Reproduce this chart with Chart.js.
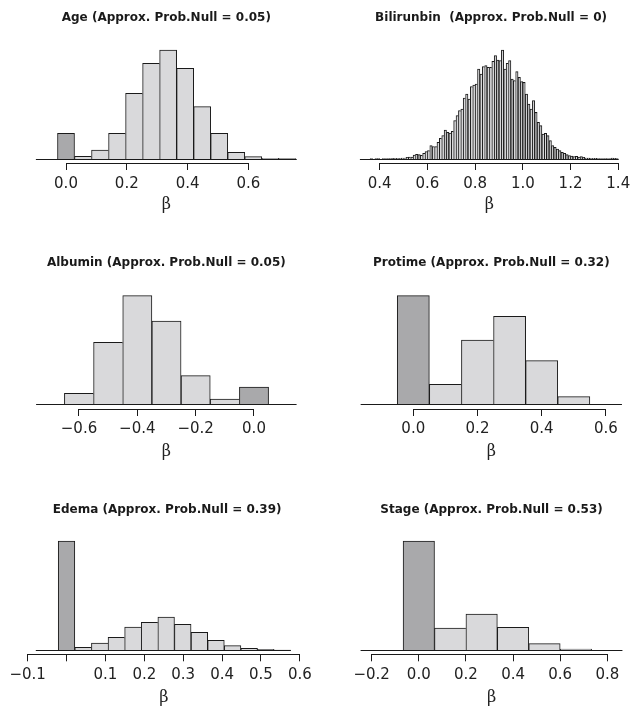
<!DOCTYPE html>
<html>
<head>
<meta charset="utf-8">
<script src="https://cdn.jsdelivr.net/npm/chart.js@4.4.1/dist/chart.umd.min.js"></script>
<style>
  body { margin: 0; background: #fff; }
  .panel { position: absolute; }
</style>
</head>
<body>
<div class="panel" id="p1"><canvas id="c1"></canvas></div>
<div class="panel" id="p2"><canvas id="c2"></canvas></div>
<div class="panel" id="p3"><canvas id="c3"></canvas></div>
<div class="panel" id="p4"><canvas id="c4"></canvas></div>
<div class="panel" id="p5"><canvas id="c5"></canvas></div>
<div class="panel" id="p6"><canvas id="c6"></canvas></div>
<script>
// bin centres (the null mass sits in the bin at 0) and bar heights
const ageBins = [0, 0.056, 0.112, 0.168, 0.224, 0.28, 0.336, 0.392, 0.448, 0.504, 0.56, 0.616, 0.672, 0.728];
const ageCounts = [77, 8, 27, 77, 197, 287, 327, 272, 157, 77, 20, 7, 2, 1];
const ageRange = [-0.099, 0.759];
const ageTicks = [0, 0.2, 0.4, 0.6];
const ageTickLabels = ["0.0", "0.2", "0.4", "0.6"];

// bilirubin: breaks every 0.01 from 0.32 to 1.40
const biliStart = 0.325, biliStep = 0.01;
const biliCounts = [
  0, 0, 0, 0, 1, 0, 1, 1, 0, 1, 1, 1, 1, 2, 1, 2, 2, 3,
  3, 5, 6, 6, 12, 14, 13, 11,
  17, 22, 25, 40, 37, 37, 50, 62, 70, 87, 80, 78, 83, 115, 130, 145, 150, 183, 195, 180, 217, 222, 225, 270, 255, 277, 280, 275,
  275, 293, 310, 297, 295, 327, 270, 287, 295, 240, 235, 262, 245, 232, 230, 195, 165, 150, 175, 140, 110, 100, 75, 77, 70, 55, 40, 35,
  30, 25, 20, 17, 13, 10, 9, 7, 8, 6, 7, 5, 3, 3, 2, 2, 2, 1, 1, 1, 1, 1, 1, 3, 2, 1
];
const biliBins = biliCounts.map((c, i) => +(biliStart + i * biliStep).toFixed(3));
const biliRange = [0.317, 1.402];
const biliTicks = [0.4, 0.6, 0.8, 1.0, 1.2, 1.4];
const biliTickLabels = ["0.4", "0.6", "0.8", "1.0", "1.2", "1.4"];

const albBins = [-0.6, -0.5, -0.4, -0.3, -0.2, -0.1, 0];
const albCounts = [32, 185, 325, 249, 85, 15, 51];
const albRange = [-0.747, 0.146];
const albTicks = [-0.6, -0.4, -0.2, 0];
const albTickLabels = ["\u22120.6", "\u22120.4", "\u22120.2", "0.0"];

const proBins = [0, 0.1, 0.2, 0.3, 0.4, 0.5];
const proCounts = [325, 59, 192, 263, 130, 22];
const proRange = [-0.164, 0.65];
const proTicks = [0, 0.2, 0.4, 0.6];
const proTickLabels = ["0.0", "0.2", "0.4", "0.6"];

const edeBins = [0, 0.0427, 0.0854, 0.1281, 0.1708, 0.2135, 0.2562, 0.2989, 0.3416, 0.3843, 0.427, 0.4697, 0.5124, 0.5551];
const edeCounts = [328, 9, 22, 39, 70, 84, 100, 78, 54, 30, 14, 6, 3, 1];
const edeRange = [-0.079, 0.577];
const edeTicks = [-0.1, 0, 0.1, 0.2, 0.3, 0.4, 0.5, 0.6];
const edeTickLabels = ["\u22120.1", "", "0.1", "0.2", "0.3", "0.4", "0.5", "0.6"];

const staBins = [0, 0.1333, 0.2666, 0.3999, 0.5332, 0.6665];
const staCounts = [328, 67, 109, 69, 20, 4];
const staRange = [-0.247, 0.864];
const staTicks = [-0.2, 0, 0.2, 0.4, 0.6, 0.8];
const staTickLabels = ["\u22120.2", "0.0", "0.2", "0.4", "0.6", "0.8"];

const LIGHT = "#d9d9db";
const DARK = "#a9a9ab";
const INK = "#1a1a1a";
const YMAX = 330;

// R-style axis: line only between first and last tick, plus the histogram baseline
const axisLine = {
  id: "axisLine",
  afterDatasetsDraw(chart, args, opts) {
    const x = chart.scales.x, y = chart.scales.y, ctx = chart.ctx;
    const t = x.ticks;
    ctx.save();
    ctx.strokeStyle = INK;
    ctx.lineWidth = 1;
    ctx.beginPath();
    const ya = Math.round(x.top) + 0.5;
    ctx.moveTo(x.getPixelForValue(t[0].value), ya);
    ctx.lineTo(x.getPixelForValue(t[t.length - 1].value), ya);
    const yb = Math.round(y.getPixelForValue(0)) + 0.5;
    ctx.moveTo(x.getPixelForValue(opts.range[0]), yb);
    ctx.lineTo(x.getPixelForValue(opts.range[1]), yb);
    ctx.stroke();
    ctx.restore();
  }
};

function histChart(id, p) {
  const box = document.getElementById("p" + id);
  box.style.left = p.left + "px";
  box.style.top = p.top + "px";
  box.style.width = p.w + "px";
  box.style.height = p.h + "px";

  const xmin = Math.min(p.range[0], p.ticks[0]);
  const xmax = Math.max(p.range[1], p.ticks[p.ticks.length - 1]);
  const top = p.base - 110;          // pixel of YMAX
  const axis = p.base + p.gap;       // chart bottom
  const titleLH = 12 * 1.2, tickLH = 15 * 1.2, betaLH = 16 * 1.2;
  const betaBottom = p.betaC + betaLH / 2;

  new Chart(document.getElementById("c" + id), {
    type: "bar",
    data: {
      datasets: [{
        data: p.bins.map((b, i) => ({ x: b, y: p.counts[i] })),
        backgroundColor: p.bins.map(b => (p.nullBin && b === 0) ? DARK : LIGHT),
        borderColor: INK,
        borderWidth: (ctx) => {
          const d = ctx.dataset.data, i = ctx.dataIndex;
          const last = i === d.length - 1;
          return { left: 1, top: 1, bottom: 0, right: (last || d[i + 1].y < d[i].y) ? 1 : 0 };
        },
        barPercentage: 1,
        categoryPercentage: 1,
      }]
    },
    options: {
      responsive: true,
      maintainAspectRatio: false,
      animation: false,
      layout: {
        padding: {
          top: 0,
          left: p.x0 + p.k * xmin - p.left,
          right: p.left + p.w - (p.x0 + p.k * xmax),
          bottom: Math.max(0, p.top + p.h - betaBottom),
        }
      },
      plugins: {
        legend: { display: false },
        tooltip: { enabled: false },
        title: {
          display: true,
          text: p.title,
          color: "#1a1a1a",
          font: { family: "DejaVu Sans", size: 12, weight: "bold" },
          padding: { top: p.titleC - p.top - titleLH / 2, bottom: top - p.titleC - titleLH / 2 },
        },
        axisLine: { range: p.range },
      },
      scales: {
        x: {
          type: "linear",
          min: xmin,
          max: xmax,
          offset: false,
          grid: { offset: false, drawOnChartArea: false, drawTicks: true, tickLength: 7, color: INK },
          border: { display: false },
          afterBuildTicks: (s) => { s.ticks = p.ticks.map(v => ({ value: v })); },
          afterFit: (s) => { s.height = betaBottom - axis; },
          ticks: {
            autoSkip: false,
            maxRotation: 0,
            color: "#222",
            padding: p.labelC - axis - 7 - tickLH / 2,
            font: { family: "DejaVu Sans", size: 15 },
            callback: (v, i) => p.tickLabels[i],
          },
          title: {
            display: true,
            text: "\u03b2",
            color: "#222",
            padding: 0,
            font: { family: "DejaVu Serif", size: 16 },
          },
        },
        y: { display: false, min: -3 * p.gap, max: YMAX },
      },
    },
    plugins: [axisLine],
  });
}

histChart(1, { title: "Age (Approx. Prob.Null = 0.05)", bins: ageBins, counts: ageCounts, range: ageRange,
  ticks: ageTicks, tickLabels: ageTickLabels, nullBin: true,
  left: 0, top: 0, w: 317, h: 230, x0: 66, k: 304, base: 159, gap: 4, titleC: 18.3, labelC: 183.8, betaC: 205 });
histChart(2, { title: "Bilirunbin  (Approx. Prob.Null = 0)", bins: biliBins, counts: biliCounts, range: biliRange,
  ticks: biliTicks, tickLabels: biliTickLabels, nullBin: false,
  left: 317, top: 0, w: 318, h: 230, x0: 283.3, k: 241.7, base: 159, gap: 4, titleC: 18.3, labelC: 183.8, betaC: 205 });
histChart(3, { title: "Albumin (Approx. Prob.Null = 0.05)", bins: albBins, counts: albCounts, range: albRange,
  ticks: albTicks, tickLabels: albTickLabels, nullBin: true,
  left: 0, top: 230, w: 317, h: 240, x0: 254, k: 291.7, base: 404, gap: 5, titleC: 263.3, labelC: 429, betaC: 451.5 });
histChart(4, { title: "Protime (Approx. Prob.Null = 0.32)", bins: proBins, counts: proCounts, range: proRange,
  ticks: proTicks, tickLabels: proTickLabels, nullBin: true,
  left: 317, top: 230, w: 318, h: 240, x0: 413.3, k: 321, base: 404, gap: 5, titleC: 263.3, labelC: 429, betaC: 451.5 });
histChart(5, { title: "Edema (Approx. Prob.Null = 0.39)", bins: edeBins, counts: edeCounts, range: edeRange,
  ticks: edeTicks, tickLabels: edeTickLabels, nullBin: true,
  left: 0, top: 470, w: 317, h: 238, x0: 67.5, k: 398.6, base: 650.3, gap: 4, titleC: 509.7, labelC: 675.5, betaC: 698 });
histChart(6, { title: "Stage (Approx. Prob.Null = 0.53)", bins: staBins, counts: staCounts, range: staRange,
  ticks: staTicks, tickLabels: staTickLabels, nullBin: true,
  left: 317, top: 470, w: 318, h: 238, x0: 418.8, k: 235.7, base: 650.3, gap: 4, titleC: 509.7, labelC: 675.5, betaC: 698 });
</script>
</body>
</html>
